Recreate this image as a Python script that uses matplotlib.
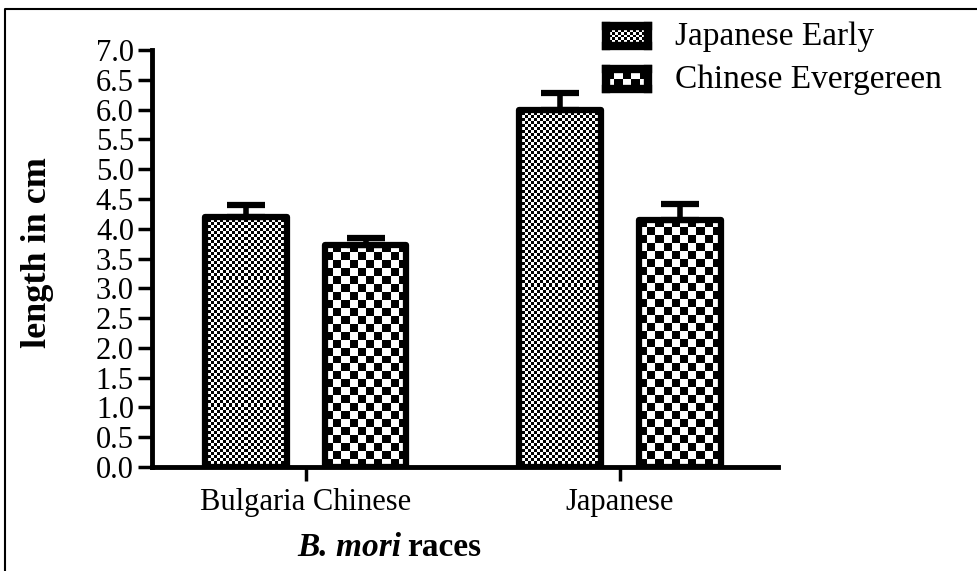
import matplotlib
matplotlib.use('Agg')
import matplotlib.pyplot as plt
from matplotlib.lines import Line2D
import numpy as np

plt.rcParams['font.family'] = ['Liberation Serif', 'DejaVu Serif']

races = ['Bulgaria Chinese', 'Japanese']
series = ['Japanese Early', 'Chinese Evergereen']
early_mean = [4.2, 6.0]
early_err = [0.2, 0.27]
ever_mean = [3.73, 4.15]
ever_err = [0.12, 0.26]

W, H = 978, 571
fig = plt.figure(figsize=(W / 100, H / 100), dpi=100)
ax = fig.add_axes([152 / W, 1 - 467 / H, 626 / W, 417 / H])

xlim = (-0.49, 1.503)
ylim = (0, 7)
px_x = 626 / (xlim[1] - xlim[0])
px_y = 417 / (ylim[1] - ylim[0])


def checker(nx, ny):
    yy, xx = np.indices((ny, nx))
    return (xx + yy) % 2


x = np.arange(len(races))
off, width = 0.19, 0.26
groups = [(early_mean, early_err, -off, 3), (ever_mean, ever_err, off, 8)]

for means, errs, dx, cell in groups:
    bars = ax.bar(x + dx, means, width, facecolor='none', edgecolor='black',
                  linewidth=4.5, zorder=3)
    for rect in bars:
        rect.set_joinstyle('round')
        x0, w, h = rect.get_x(), rect.get_width(), rect.get_height()
        nx = max(1, round(w * px_x / cell))
        ny = max(1, round(h * px_y / cell))
        im = ax.imshow(checker(nx, ny), cmap='gray', extent=(x0, x0 + w, 0, h),
                       origin='lower', interpolation='nearest', aspect='auto',
                       zorder=1)
        im.set_clip_path(rect)
    eb = ax.errorbar(x + dx, means, yerr=[np.zeros(len(means)), errs], fmt='none',
                     ecolor='black', elinewidth=4, capsize=14, capthick=4.5,
                     zorder=2)
    for cap in eb[1]:
        cap.set_solid_capstyle('round')

ax.set_xlim(*xlim)
ax.set_ylim(*ylim)
ax.set_yticks(np.arange(0, 7.01, 0.5))
ax.set_yticklabels([f'{v:.1f}' for v in np.arange(0, 7.01, 0.5)])
ax.set_xticks(x)
ax.set_xticklabels(races)

for s in ['top', 'right']:
    ax.spines[s].set_visible(False)
for s in ['left', 'bottom']:
    ax.spines[s].set_linewidth(3.5)
ax.tick_params(axis='y', length=10, width=2.5, labelsize=22, pad=3)
ax.tick_params(axis='x', length=10, width=2.5, labelsize=22, pad=5)

# axis titles
fig.text(38 / W, 1 - 253 / H, 'length in cm', rotation=90, fontsize=26,
         fontweight='bold', ha='center', va='center')
fig.text(401 / W, 1 - 548 / H, 'B. mori', fontsize=24, fontweight='bold',
         fontstyle='italic', ha='right', va='center')
fig.text(407 / W, 1 - 548 / H, 'races', fontsize=24, fontweight='bold',
         ha='left', va='center')

# legend swatches
for i, (name, (_, _, _, cell)) in enumerate(zip(series, groups)):
    top = 22 + i * 43
    sw = fig.add_axes([606 / W, 1 - (top + 24) / H, 42 / W, 20 / H])
    sw.imshow(checker(max(2, round(42 / cell)), max(2, round(20 / cell))),
              cmap='gray', interpolation='nearest', aspect='auto')
    sw.set_xticks([])
    sw.set_yticks([])
    for s in sw.spines.values():
        s.set_linewidth(6)
    fig.text(675 / W, 1 - (top + 15) / H, name, fontsize=24,
             ha='left', va='center')

# frame lines on the left and top
fig.add_artist(Line2D([5 / W, 5 / W, 1], [0, 1 - 9 / H, 1 - 9 / H],
                      color='black', linewidth=1.5, transform=fig.transFigure))

fig.savefig('out.png', dpi=100, facecolor='white')
